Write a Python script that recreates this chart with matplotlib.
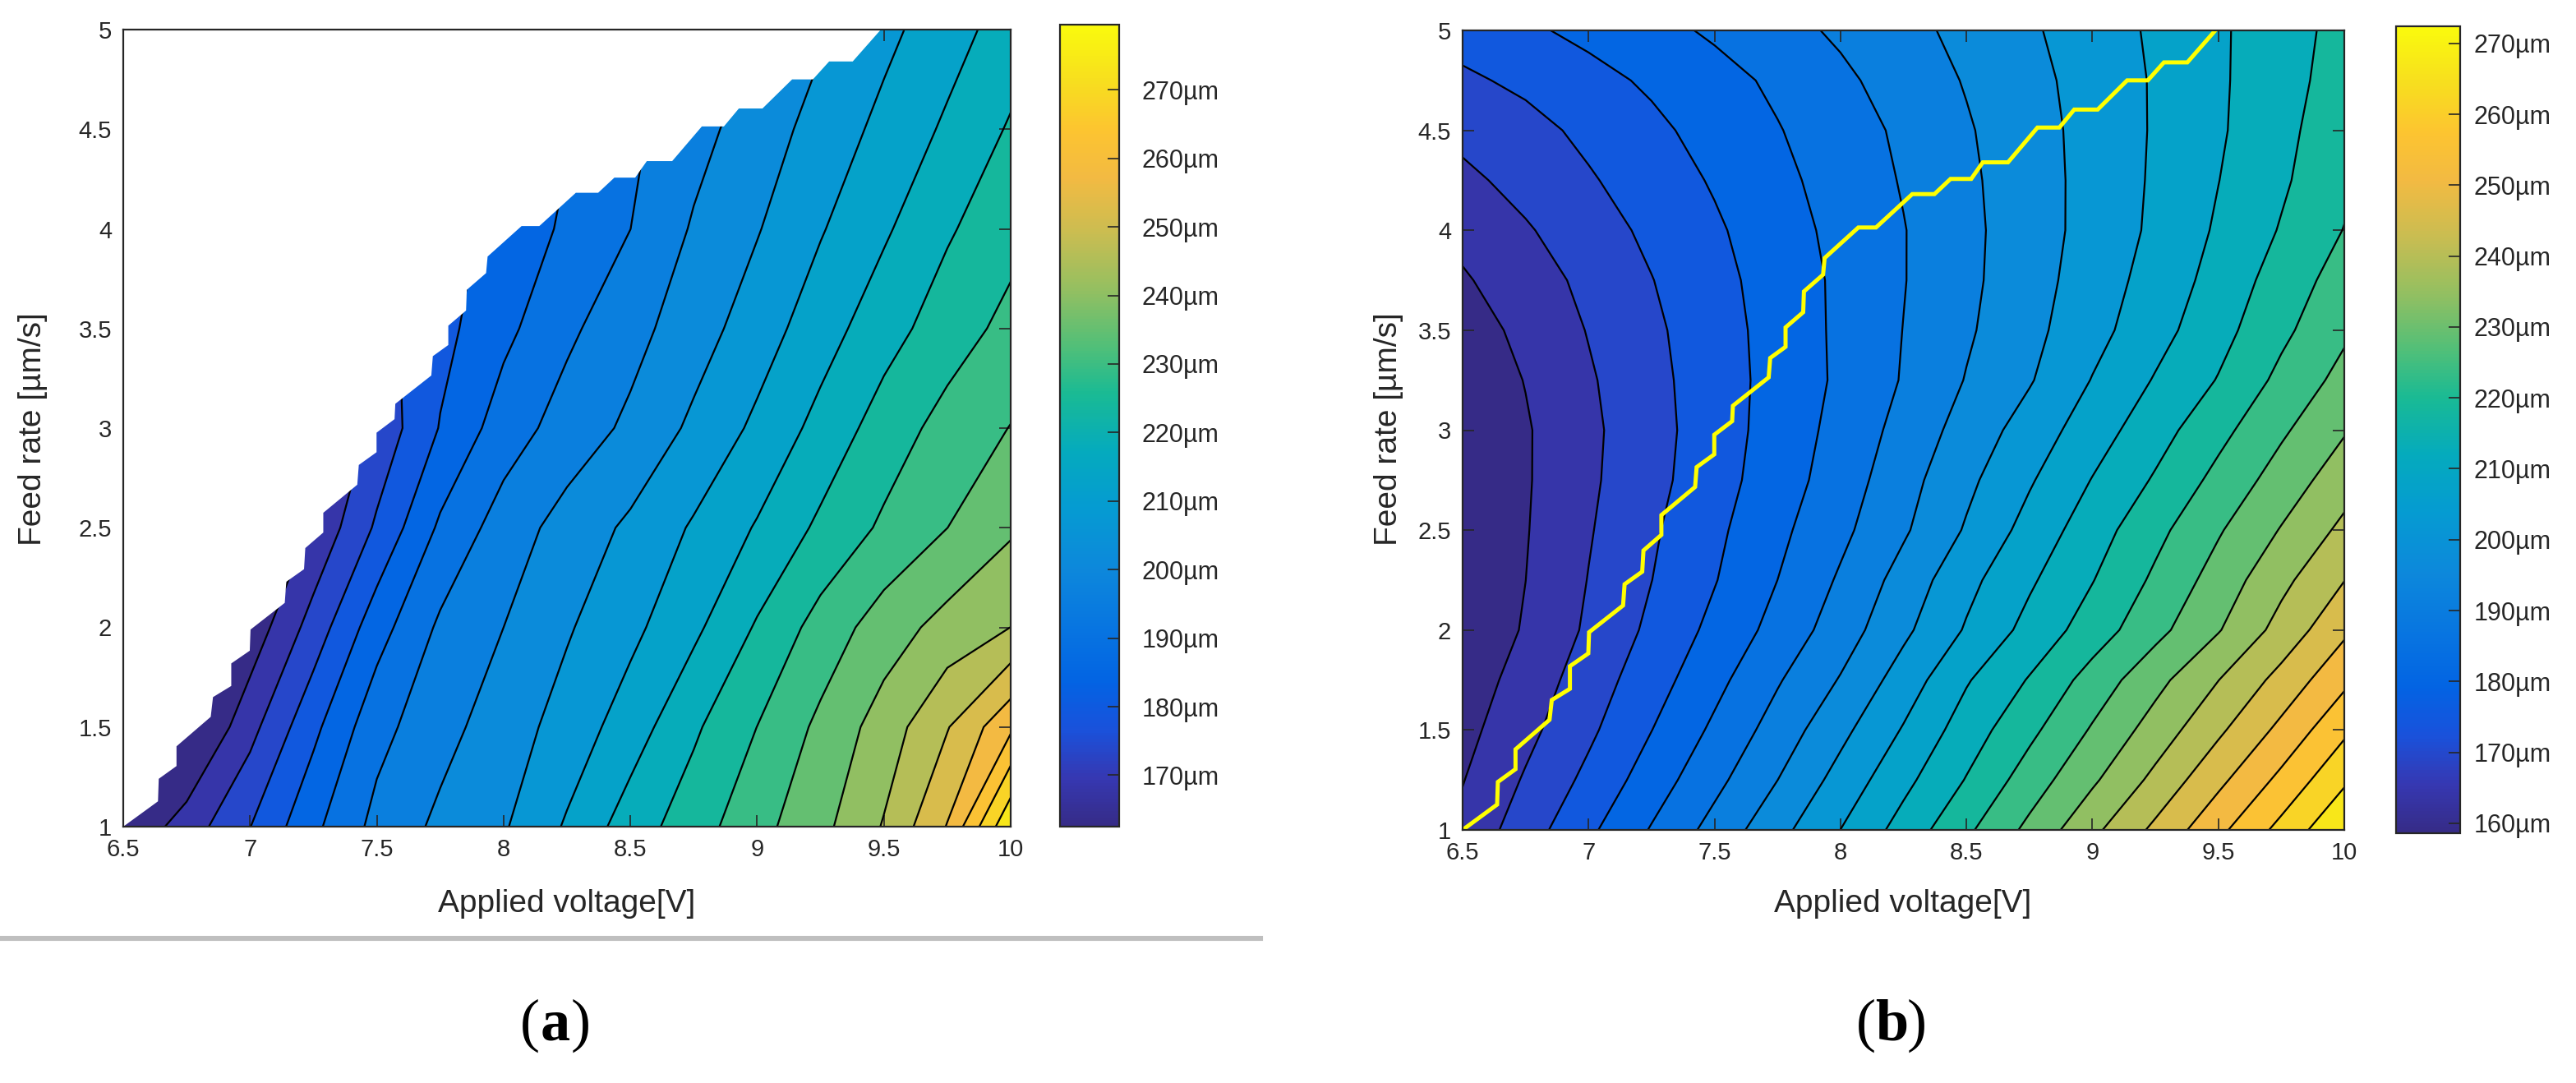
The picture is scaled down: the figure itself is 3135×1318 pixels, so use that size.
import numpy as np
import matplotlib
matplotlib.use("Agg")
import matplotlib.pyplot as plt
from matplotlib.colors import LinearSegmentedColormap, Normalize
from matplotlib.cm import ScalarMappable
from matplotlib.patches import Polygon

plt.rcParams['font.family'] = ['Liberation Sans', 'DejaVu Sans']

# ---------------- data ----------------
volt = [6.5, 6.75, 7.0, 7.25, 7.5, 7.75, 8.0, 8.25, 8.5, 8.75, 9.0, 9.25, 9.5, 9.75, 10.0]
feed_a = [1.0, 1.5, 2.0, 2.5, 3.0, 3.5, 4.0, 4.5, 5.0]
feed_b = [1.0, 1.25, 1.5, 1.75, 2.0, 2.25, 2.5, 2.75, 3.0, 3.25, 3.5, 3.75, 4.0, 4.25, 4.5, 4.75, 5.0]

# panel (a): measured gap (um); nan = no data (white region)
nan = np.nan
gap_a = [
    [163.0, 170.7, 179.1, 189.1, 197.6, 202.7, 206.5, 213.3, 221.0, 226.8, 233.1, 238.9, 246.5, 257.5, 279.0],
    [nan, nan, 171.8, 183.4, 194.1, 199.6, 204.3, 209.3, 215.4, 222.9, 229.4, 236.2, 243.0, 251.3, 261.6],
    [nan, nan, 164.4, 176.0, 188.0, 196.9, 201.5, 206.5, 211.2, 217.0, 224.4, 231.5, 237.7, 242.5, 246.1],
    [nan, nan, nan, nan, 180.1, 191.3, 198.5, 203.7, 208.1, 213.3, 218.7, 224.9, 230.3, 234.9, 239.7],
    [nan, nan, nan, nan, 175.2, 185.1, 193.1, 198.3, 202.6, 208.2, 213.8, 220.0, 226.3, 231.4, 235.1],
    [nan, nan, nan, nan, nan, nan, 188.9, 194.8, 199.6, 204.5, 209.9, 215.7, 221.5, 226.6, 231.0],
    [nan, nan, nan, nan, nan, nan, nan, 191.3, 195.9, 202.1, 206.7, 212.2, 217.4, 223.1, 227.5],
    [nan, nan, nan, nan, nan, nan, nan, nan, nan, nan, 204.3, 209.1, 214.2, 219.1, 224.4],
    [nan, nan, nan, nan, nan, nan, nan, nan, nan, nan, nan, nan, 211.1, 215.9, 220.7],
]

# panel (b): predicted gap (um)
gap_b = [
    [165.4, 172.3, 179.2, 186.1, 193.0, 200.2, 207.4, 214.9, 222.6, 230.4, 238.6, 246.5, 254.8, 263.2, 272.0],
    [163.8, 170.0, 176.2, 182.9, 189.6, 196.5, 203.9, 211.3, 218.5, 226.2, 233.6, 241.3, 249.4, 257.5, 266.1],
    [162.3, 167.9, 173.8, 180.2, 186.7, 193.4, 200.5, 207.8, 215.4, 222.3, 229.6, 236.8, 244.3, 252.1, 260.5],
    [161.0, 166.2, 172.1, 177.9, 184.1, 190.6, 196.9, 204.4, 212.3, 218.6, 225.8, 232.8, 239.8, 247.1, 254.9],
    [160.0, 164.5, 170.3, 176.0, 181.7, 187.5, 193.8, 200.8, 207.9, 214.5, 220.8, 227.4, 234.1, 241.8, 249.7],
    [159.3, 164.0, 169.6, 174.8, 180.0, 185.7, 191.8, 198.6, 205.8, 212.0, 218.0, 224.6, 231.3, 238.5, 245.2],
    [158.9, 163.7, 169.0, 174.1, 179.1, 184.4, 189.8, 195.8, 202.5, 209.3, 215.7, 222.1, 228.5, 234.8, 241.2],
    [159.1, 163.5, 168.5, 173.2, 178.1, 183.1, 188.3, 194.5, 200.7, 206.8, 213.0, 218.8, 225.2, 231.4, 237.5],
    [159.6, 163.5, 168.3, 172.9, 177.7, 182.5, 187.4, 192.9, 198.7, 204.3, 210.2, 216.0, 222.0, 228.2, 234.0],
    [160.4, 164.2, 168.8, 173.3, 177.7, 182.2, 186.6, 191.5, 196.8, 201.5, 207.6, 213.2, 218.5, 225.0, 230.8],
    [161.6, 165.3, 169.7, 173.8, 178.0, 182.3, 186.7, 191.2, 195.8, 200.4, 205.5, 210.8, 216.3, 222.4, 228.1],
    [163.4, 167.0, 170.7, 174.7, 178.6, 182.6, 186.7, 190.9, 195.3, 199.8, 204.5, 209.5, 214.7, 220.6, 226.0],
    [165.6, 168.9, 172.4, 176.0, 179.5, 183.3, 187.2, 190.9, 195.2, 199.5, 203.8, 208.4, 213.5, 218.6, 223.8],
    [168.2, 171.2, 174.3, 177.5, 180.8, 184.3, 187.9, 191.5, 195.5, 199.6, 203.7, 208.1, 212.7, 217.4, 222.4],
    [170.9, 173.1, 176.1, 179.1, 182.2, 185.4, 188.6, 192.1, 196.0, 199.8, 203.8, 207.9, 212.1, 216.7, 221.7],
    [173.9, 176.0, 178.6, 181.1, 183.8, 186.7, 190.0, 193.5, 196.9, 200.4, 204.0, 207.9, 212.0, 216.2, 220.6],
    [177.1, 179.4, 181.6, 184.0, 186.5, 189.2, 192.0, 194.9, 198.0, 201.2, 204.7, 208.2, 212.0, 215.9, 220.0],
]

# boundary of the feasible region (yellow line in b, edge of white area in a)
boundary_volt = [6.50, 6.637, 6.640, 6.710, 6.710, 6.845, 6.854, 6.926, 6.926, 6.999, 7.002, 7.137,
                 7.143, 7.213, 7.218, 7.289, 7.289, 7.423, 7.429, 7.499, 7.499, 7.570, 7.573, 7.715,
                 7.721, 7.782, 7.782, 7.852, 7.855, 7.931, 7.937, 8.071, 8.141, 8.285, 8.373, 8.437,
                 8.519, 8.565, 8.665, 8.782, 8.869, 8.928, 9.021, 9.138, 9.220, 9.284, 9.377, 9.488]
boundary_feed = [1.00, 1.127, 1.240, 1.304, 1.403, 1.551, 1.650, 1.706, 1.819, 1.883, 1.989, 2.123,
                 2.229, 2.292, 2.398, 2.476, 2.575, 2.716, 2.815, 2.879, 2.977, 3.045, 3.122, 3.264,
                 3.361, 3.417, 3.514, 3.590, 3.694, 3.778, 3.861, 4.014, 4.014, 4.181, 4.181, 4.257,
                 4.257, 4.340, 4.340, 4.514, 4.514, 4.604, 4.604, 4.750, 4.750, 4.840, 4.840, 5.0]

cbar_range_a = (162.5, 279.5)
cbar_range_b = (158.6, 272.4)
cbar_ticks_a = [170, 180, 190, 200, 210, 220, 230, 240, 250, 260, 270]
cbar_ticks_b = [160, 170, 180, 190, 200, 210, 220, 230, 240, 250, 260, 270]
n_levels = 20

xticks = [6.5, 7, 7.5, 8, 8.5, 9, 9.5, 10]
xticklabels = ["6.5", "7", "7.5", "8", "8.5", "9", "9.5", "10"]
yticks = [1, 1.5, 2, 2.5, 3, 3.5, 4, 4.5, 5]
yticklabels = ["1", "1.5", "2", "2.5", "3", "3.5", "4", "4.5", "5"]

# ---------------- style ----------------
cmap_pts = [
    (0.00, (0.21, 0.17, 0.53)), (0.06, (0.21, 0.22, 0.70)), (0.12, (0.10, 0.32, 0.86)),
    (0.18, (0.01, 0.39, 0.89)), (0.25, (0.03, 0.46, 0.88)), (0.32, (0.05, 0.53, 0.86)),
    (0.40, (0.02, 0.61, 0.82)), (0.47, (0.02, 0.67, 0.74)), (0.54, (0.10, 0.73, 0.58)),
    (0.60, (0.32, 0.75, 0.47)), (0.67, (0.58, 0.75, 0.38)), (0.74, (0.79, 0.74, 0.32)),
    (0.81, (0.95, 0.73, 0.26)), (0.87, (0.99, 0.77, 0.19)), (0.93, (0.97, 0.87, 0.12)),
    (1.00, (0.98, 0.98, 0.05))]
cmap = LinearSegmentedColormap.from_list("parula_like", cmap_pts, N=256)

W, H = 3135, 1318
fig = plt.figure(figsize=(W / 200, H / 200), dpi=200)
TXT = (0.15, 0.15, 0.15)


def fr(x0, y0, x1, y1):
    return [x0 / W, 1 - y1 / H, (x1 - x0) / W, (y1 - y0) / H]


def style_axes(ax):
    ax.set_xlim(6.5, 10)
    ax.set_ylim(1, 5)
    ax.set_xticks(xticks)
    ax.set_xticklabels(xticklabels)
    ax.set_yticks(yticks)
    ax.set_yticklabels(yticklabels)
    ax.tick_params(direction='in', top=True, right=True, length=5, width=0.6,
                   labelsize=10.5, colors=TXT, pad=5)
    for s in ax.spines.values():
        s.set_linewidth(0.8)
        s.set_color(TXT)
        s.set_zorder(5)


def draw_panel(ax, cax, feed, Z, rng, cticks, cpad):
    lo, hi = rng
    norm = Normalize(lo, hi)
    levels = list(np.linspace(lo, hi, n_levels + 2)[1:-1])
    bounds = [lo - 80] + levels + [hi + 80]
    lowers = [lo] + levels
    colors = [cmap(norm(v)) for v in lowers]
    V, F = np.meshgrid(volt, feed)
    ax.contourf(V, F, Z, levels=bounds, colors=colors, zorder=1)
    ax.contour(V, F, Z, levels=levels, colors='k', linewidths=0.8, zorder=2)
    style_axes(ax)
    cb = fig.colorbar(ScalarMappable(norm=norm, cmap=cmap), cax=cax, ticks=cticks)
    cb.ax.set_yticklabels([f"{t}µm" for t in cticks])
    cb.ax.tick_params(direction='in', length=5, width=0.6, labelsize=11, colors=TXT, pad=cpad)
    cb.outline.set_linewidth(0.8)
    cb.outline.set_edgecolor(TXT)


# panel (a): extend each row under the white mask only so the visible cells are fully drawn
ax_a = fig.add_axes(fr(150, 36, 1230, 1006))
cax_a = fig.add_axes(fr(1290, 30, 1362, 1006))
Za = np.array(gap_a, dtype=float)
for r in range(Za.shape[0]):
    row = Za[r]
    i0 = int(np.where(~np.isnan(row))[0][0])
    slope = row[i0 + 1] - row[i0]
    for c in range(i0):
        row[c] = row[i0] - (i0 - c) * slope
draw_panel(ax_a, cax_a, feed_a, Za, cbar_range_a, cbar_ticks_a, 10)
mask_pts = list(zip(boundary_volt, boundary_feed)) + [(6.45, 5.05), (6.45, 1.0)]
ax_a.add_patch(Polygon(mask_pts, closed=True, facecolor='white', edgecolor='none', zorder=3))

# panel (b)
ax_b = fig.add_axes(fr(1780, 37, 2853, 1010))
cax_b = fig.add_axes(fr(2916, 32, 2994, 1014))
draw_panel(ax_b, cax_b, feed_b, np.array(gap_b), cbar_range_b, cbar_ticks_b, 6)
ax_b.plot(boundary_volt, boundary_feed, color=(1.0, 1.0, 0.0), linewidth=1.8, zorder=4,
          solid_joinstyle='miter')

# labels
for xc, yl in [(690, 40), (2316, 1690)]:
    fig.text(xc / W, 1 - 1100 / H, "Applied voltage[V]", ha='center', va='center',
             fontsize=14, color=TXT)
    fig.text(yl / W, 1 - 522 / H, "Feed rate [µm/s]", ha='center', va='center',
             rotation=90, fontsize=14, color=TXT)

# separator line under panel (a)
fig.add_artist(plt.Line2D([0, 1534 / W], [1 - 1142 / H, 1 - 1142 / H], color=(0.75, 0.75, 0.75),
                          linewidth=2.2))

SERIF = ['Liberation Serif', 'DejaVu Serif']
for xc, letter in [(676, "a"), (2302, "b")]:
    y = 1 - 1266 / H
    fig.text(xc / W, y, letter, ha='center', va='baseline', fontsize=26, weight='bold',
             family=SERIF)
    fig.text((xc - 19) / W, y, "(", ha='right', va='baseline', fontsize=26, family=SERIF)
    fig.text((xc + 19) / W, y, ")", ha='left', va='baseline', fontsize=26, family=SERIF)

fig.savefig("out.png", dpi=200, facecolor='white')
